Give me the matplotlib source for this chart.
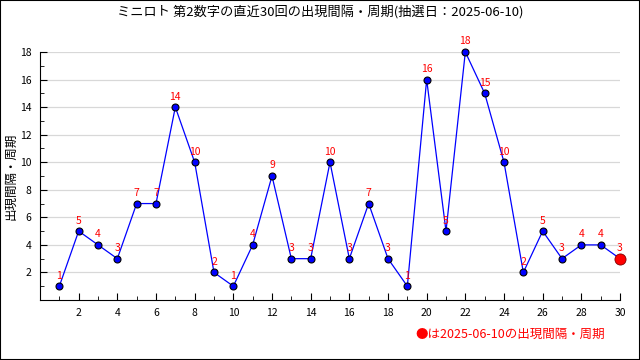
import matplotlib
matplotlib.use('Agg')
import matplotlib.pyplot as plt
from matplotlib.ticker import MultipleLocator

plt.rcParams['font.family'] = ['Noto Sans CJK JP', 'DejaVu Sans']

# data
draws = list(range(1, 31))
intervals = [1, 5, 4, 3, 7, 7, 14, 10, 2, 1, 4, 9, 3, 3, 10, 3, 7, 3, 1, 16,
             5, 18, 15, 10, 2, 5, 3, 4, 4, 3]
title = 'ミニロト 第2数字の直近30回の出現間隔・周期(抽選日：2025-06-10)'
ylabel = '出現間隔・周期'
note = '●は2025-06-10の出現間隔・周期'

fig = plt.figure(figsize=(6.4, 3.6), dpi=100)
ax = fig.add_axes([40/640, 60/360, 580/640, 248/360])

ax.plot(draws, intervals, color='blue', linewidth=0.9, marker='o',
        markersize=5, markerfacecolor='blue', markeredgecolor='black',
        markeredgewidth=0.8, zorder=3, clip_on=False)
ax.plot(draws[-1], intervals[-1], 'o', color='red', markersize=8,
        markeredgecolor='#800000', markeredgewidth=0.6, zorder=4, clip_on=False)

for x, y in zip(draws, intervals):
    ax.annotate(str(y), (x, y), xytext=(0, 4), textcoords='offset points',
                ha='center', va='bottom', color='red', fontsize=7.5)

ax.set_xlim(0, 30)
ax.set_ylim(0, 18)
ax.set_xticks(range(2, 31, 2))
ax.xaxis.set_minor_locator(MultipleLocator(1))
ax.set_yticks(range(2, 19, 2))
ax.yaxis.set_minor_locator(MultipleLocator(1))
ax.tick_params(which='major', direction='in', length=5, labelsize=7.5, pad=6)
ax.tick_params(which='minor', direction='in', length=3)
ax.grid(axis='y', which='major', color='#d8d8d8', linewidth=0.9)
ax.set_axisbelow(True)
for s in ['top', 'right']:
    ax.spines[s].set_visible(False)

fig.text(11/640, 1 - 176/360, ylabel, rotation=90, ha='center', va='center', fontsize=9)
fig.text(0.5, 1 - 12/360, title, ha='center', va='center', fontsize=9.5)
fig.text(605/640, 1 - 334/360, note, ha='right', va='center', color='red', fontsize=9)

fig.patches.append(plt.Rectangle((0, 0), 1, 1, transform=fig.transFigure,
                                 fill=False, edgecolor='black', linewidth=1.5))

fig.savefig('out.png', dpi=100)
